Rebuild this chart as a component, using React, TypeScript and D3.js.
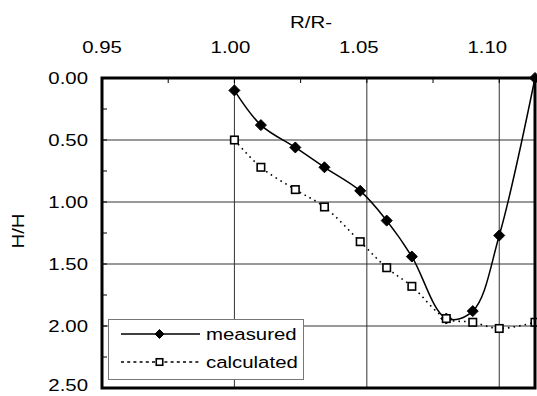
import React from "react";
import * as d3 from "d3";

// Radius ratio (x) and depth ratio (y) samples
const radiusRatio = [1.0, 1.01, 1.023, 1.034, 1.0475, 1.0575, 1.067, 1.08, 1.09, 1.1, 1.1135];
const measuredDepth = [0.1, 0.38, 0.56, 0.72, 0.91, 1.15, 1.44, 1.94, 1.88, 1.27, 0.0];
const calculatedDepth = [0.5, 0.72, 0.9, 1.04, 1.32, 1.53, 1.68, 1.94, 1.97, 2.02, 1.97];

const xTicks = [0.95, 1.0, 1.05, 1.1];
const xMinorTicks = [0.975, 1.025, 1.075];
const yTicks = [0, 0.5, 1.0, 1.5, 2.0, 2.5];
const yMinorTicks = [0.25, 0.75, 1.25, 1.75, 2.25];

const seriesNames = ["measured", "calculated"];

const W = 537;
const H = 396;
const FONT = "'Liberation Sans', Arial, sans-serif";
const FS = 17;
const SX = 1.2;

const left = 102;
const right = 535;
const top = 78;
const bottom = 388;

function Label({ x, y, anchor = "middle", rotate = 0, children }: any) {
  return (
    <g transform={`translate(${x},${y}) rotate(${rotate}) scale(${SX},1)`}>
      <text x={0} y={0} textAnchor={anchor} fontFamily={FONT} fontSize={FS} fill="#000">
        {children}
      </text>
    </g>
  );
}

function Diamond({ cx, cy, r }: any) {
  return (
    <path
      d={`M${cx},${cy - r}L${cx + r},${cy}L${cx},${cy + r}L${cx - r},${cy}Z`}
      fill="#000"
      stroke="#000"
      strokeWidth={1}
    />
  );
}

function Square({ cx, cy, s }: any) {
  return (
    <rect x={cx - s / 2} y={cy - s / 2} width={s} height={s} fill="#fff" stroke="#000" strokeWidth={1.6} />
  );
}

export default function App() {
  const x = d3.scaleLinear().domain([0.95, 1.1135]).range([left, right]);
  const y = d3.scaleLinear().domain([0, 2.5]).range([top, bottom]);
  // tick labels sit slightly left of their gridlines
  const xl = d3.scaleLinear().domain([0.95, 1.1]).range([x(0.95), x(1.1) - 12]);

  const measured = radiusRatio.map((r, i) => [r, measuredDepth[i]] as [number, number]);
  const calculated = radiusRatio.map((r, i) => [r, calculatedDepth[i]] as [number, number]);

  const line = d3
    .line<[number, number]>()
    .x((d) => x(d[0]))
    .y((d) => y(d[1]))
    .curve(d3.curveCatmullRom.alpha(0.5));

  const fmt = d3.format(".2f");

  return (
    <svg
      width={W}
      height={H}
      style={{ position: "absolute", left: 0, top: 0, background: "#fff" }}
    >
      <rect x={0} y={0} width={W} height={H} fill="#fff" />

      {/* gridlines */}
      {xTicks.slice(1).map((t) => (
        <line key={"gx" + t} x1={x(t)} x2={x(t)} y1={top} y2={bottom} stroke="#333" strokeWidth={1} />
      ))}
      {yTicks.slice(1, -1).map((t) => (
        <line key={"gy" + t} x1={left} x2={right} y1={y(t)} y2={y(t)} stroke="#333" strokeWidth={1} />
      ))}

      {/* inward ticks */}
      {[...xTicks, ...xMinorTicks].map((t) => (
        <line key={"tx" + t} x1={x(t)} x2={x(t)} y1={top} y2={top + 5} stroke="#000" strokeWidth={1} />
      ))}
      {[...yTicks, ...yMinorTicks].map((t) => (
        <line key={"ty" + t} x1={left} x2={left + 5} y1={y(t)} y2={y(t)} stroke="#000" strokeWidth={1} />
      ))}

      {/* series lines */}
      <path d={line(measured) || ""} fill="none" stroke="#000" strokeWidth={1.5} />
      <path
        d={line(calculated) || ""}
        fill="none"
        stroke="#000"
        strokeWidth={1.6}
        strokeDasharray="1.6,4"
      />

      {/* markers */}
      {measured.map((d, i) => (
        <Diamond key={"m" + i} cx={x(d[0])} cy={y(d[1])} r={5.5} />
      ))}
      {calculated.map((d, i) => (
        <Square key={"c" + i} cx={x(d[0])} cy={y(d[1])} s={7.5} />
      ))}

      {/* frame */}
      <rect x={left} y={top} width={right - left} height={bottom - top} fill="none" stroke="#000" strokeWidth={3} />

      {/* legend */}
      <g>
        <rect x={108.5} y={319.5} width={195} height={60} fill="#fff" stroke="#777" strokeWidth={1} />
        <line x1={121} x2={200} y1={334} y2={334} stroke="#000" strokeWidth={1.5} />
        <Diamond cx={159.5} cy={334} r={4.5} />
        <Label x={206} y={340} anchor="start">{seriesNames[0]}</Label>
        <line x1={121} x2={200} y1={362} y2={362} stroke="#000" strokeWidth={1.5} strokeDasharray="3,3.2" />
        <Square cx={159.5} cy={362} s={6.5} />
        <Label x={206} y={368} anchor="start">{seriesNames[1]}</Label>
      </g>

      {/* axis labels; the bottom one is kept inside the canvas */}
      {xTicks.map((t) => (
        <Label key={"lx" + t} x={xl(t)} y={53}>{fmt(t)}</Label>
      ))}
      {yTicks.map((t) => (
        <Label key={"ly" + t} x={88} y={Math.min(y(t) + 6, H - 5)} anchor="end">{fmt(t)}</Label>
      ))}
      <Label x={311} y={28}>R/R-</Label>
      <Label x={24} y={231} rotate={-90}>H/H</Label>
    </svg>
  );
}
